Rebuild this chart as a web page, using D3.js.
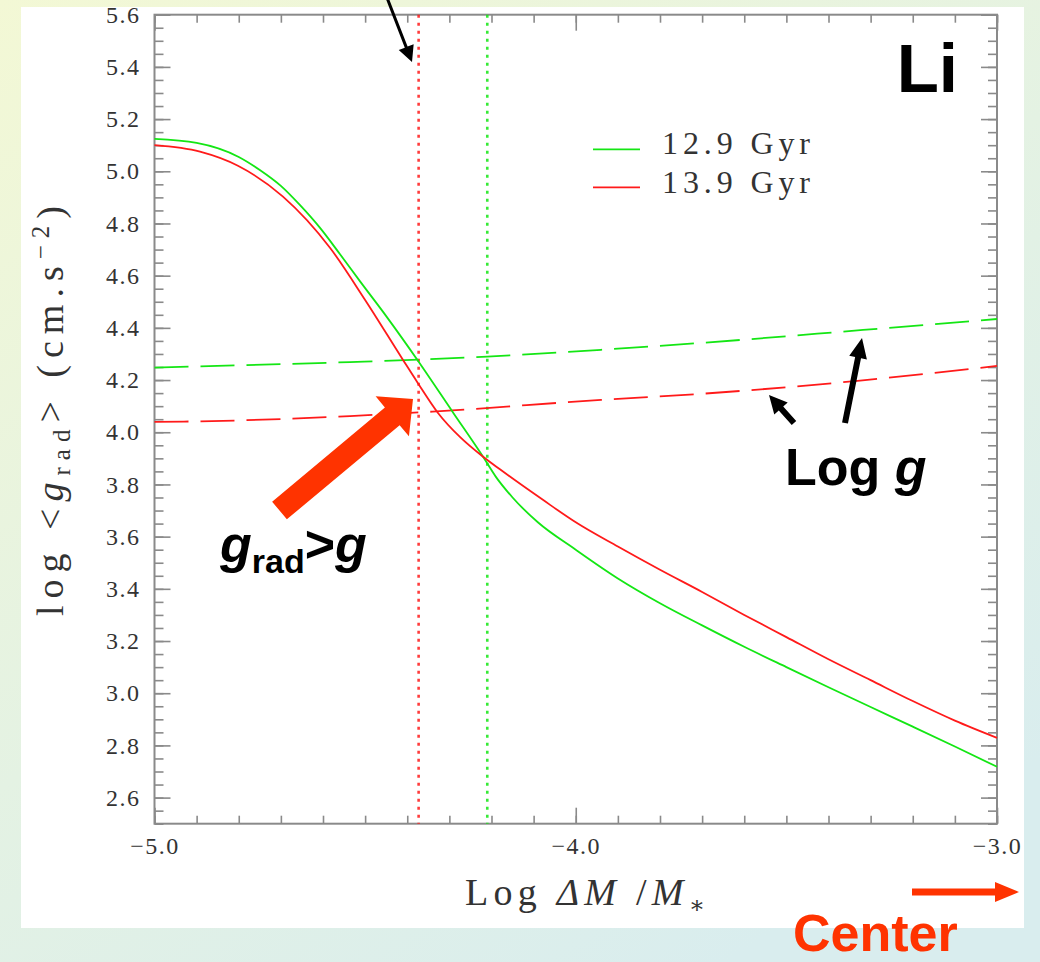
<!DOCTYPE html>
<html>
<head>
<meta charset="utf-8">
<script src="https://cdn.jsdelivr.net/npm/d3@7"></script>
<style>
  html, body { margin: 0; padding: 0; overflow: hidden; background: #fff; }
  svg { display: block; }
</style>
</head>
<body>
<svg id="chart" width="1040" height="962"></svg>
<script>
// ---- data -------------------------------------------------------------
// Log(ΔM/M*) axis ticks and log g axis ticks
const xMajorTicks = [-5.0, -4.0, -3.0];
const yMajorTicks = [2.6, 2.8, 3.0, 3.2, 3.4, 3.6, 3.8, 4.0, 4.2, 4.4, 4.6, 4.8, 5.0, 5.2, 5.4, 5.6];

// Series ages (legend)
const seriesLabels = ["12.9 Gyr", "13.9 Gyr"];

// Radiative acceleration of Li, 12.9 Gyr model
const grad129X = [-5.00, -4.90, -4.80, -4.75, -4.70, -4.655, -4.607, -4.56, -4.512, -4.45, -4.375, -4.291,
                  -4.22, -4.19, -4.15, -4.09, -4.0, -3.9, -3.8, -3.7, -3.6, -3.5, -3.4, -3.3, -3.2, -3.1, -3.0];
const grad129Y = [5.124, 5.109, 5.055, 5.005, 4.944, 4.871, 4.783, 4.683, 4.578, 4.445, 4.275, 4.075,
                  3.906, 3.83, 3.75, 3.655, 3.55, 3.44, 3.345, 3.26, 3.178, 3.10, 3.023, 2.947, 2.872, 2.796, 2.718];

// Radiative acceleration of Li, 13.9 Gyr model
const grad139X = [-5.00, -4.892, -4.802, -4.695, -4.583, -4.50, -4.41, -4.375, -4.327, -4.275, -4.22, -4.18,
                  -4.078, -4.0, -3.9, -3.8, -3.7, -3.6, -3.5, -3.4, -3.3, -3.2, -3.1, -3.0];
const grad139Y = [5.100, 5.075, 5.021, 4.903, 4.706, 4.507, 4.277, 4.189, 4.074, 3.982, 3.906, 3.858,
                  3.741, 3.655, 3.562, 3.473, 3.388, 3.30, 3.215, 3.13, 3.05, 2.97, 2.895, 2.829];

// Local gravity (log g), both models
const logg129X = [-5.00, -4.536, -4.373, -4.21, -3.94, -3.705, -3.318, -3.00];
const logg129Y = [4.248, 4.269, 4.278, 4.290, 4.316, 4.342, 4.392, 4.434];
const logg139X = [-5.00, -4.93, -4.536, -4.34, -3.94, -3.705, -3.325, -3.00];
const logg139Y = [4.040, 4.041, 4.062, 4.079, 4.124, 4.147, 4.198, 4.254];

// Depths where g_rad drops below g
const crossing129 = -4.21;
const crossing139 = -4.373;

// ---- layout -----------------------------------------------------------
const W = 1040, H = 962;
const panel = { x: 21, y: 7, w: 1003, h: 921 };
const plot = { left: 154.5, right: 997, top: 14.7, bottom: 823.7 };
const GREEN = "#14e614", RED = "#ff1a1a", ORANGE = "#ff3300";
const AXIS = "#8a8a8a", LABEL = "#333333";
const SERIF = "'Liberation Serif', 'DejaVu Serif', serif";
const SANS = "'Liberation Sans', Arial, sans-serif";

const svg = d3.select("#chart");
const defs = svg.append("defs");

const bg = defs.append("linearGradient").attr("id", "bgGrad")
  .attr("x1", 0).attr("y1", 0).attr("x2", 0.7).attr("y2", 1);
bg.append("stop").attr("offset", 0).attr("stop-color", "#f3f8d5");
bg.append("stop").attr("offset", 0.55).attr("stop-color", "#e4f2e3");
bg.append("stop").attr("offset", 1).attr("stop-color", "#d9edee");

defs.append("clipPath").attr("id", "panelClip")
  .append("rect").attr("x", panel.x).attr("y", panel.y).attr("width", panel.w).attr("height", panel.h);

svg.append("rect").attr("width", W).attr("height", H).attr("fill", "url(#bgGrad)");
svg.append("rect").attr("x", panel.x).attr("y", panel.y).attr("width", panel.w).attr("height", panel.h)
  .attr("fill", "#fff");

const x = d3.scaleLinear().domain([-5, -3]).range([plot.left, plot.right]);
const y = d3.scaleLinear().domain([2.5, 5.6]).range([plot.bottom, plot.top]);

// ---- axes (ticks point inward) ---------------------------------------
const xMinor = d3.range(-50, -29).map(d => d / 10);
const yMinor = d3.range(50, 113).map(d => d / 20);
const fmt = d => (d < 0 ? "\u2212" : "") + Math.abs(d).toFixed(1);

const axes = svg.append("g").attr("clip-path", "url(#panelClip)");

function styleAxis(g) {
  g.select(".domain").remove();
  g.selectAll(".tick line").attr("stroke", AXIS).attr("stroke-width", 1.6);
  g.selectAll(".tick text").attr("font-family", SERIF).attr("font-size", 24)
    .attr("fill", LABEL).attr("letter-spacing", 1.5);
}

axes.append("g").attr("transform", `translate(0,${plot.bottom})`)
  .call(d3.axisBottom(x).tickValues(xMinor).tickSize(-8).tickFormat("")).call(styleAxis);
axes.append("g").attr("transform", `translate(0,${plot.bottom})`)
  .call(d3.axisBottom(x).tickValues(xMajorTicks).tickSize(-16).tickPadding(13).tickFormat(fmt)).call(styleAxis);
axes.append("g").attr("transform", `translate(0,${plot.top})`)
  .call(d3.axisTop(x).tickValues(xMinor).tickSize(-8).tickFormat("")).call(styleAxis);
axes.append("g").attr("transform", `translate(0,${plot.top})`)
  .call(d3.axisTop(x).tickValues(xMajorTicks).tickSize(-16).tickFormat("")).call(styleAxis);

axes.append("g").attr("transform", `translate(${plot.left},0)`)
  .call(d3.axisLeft(y).tickValues(yMinor).tickSize(-9).tickFormat("")).call(styleAxis);
axes.append("g").attr("transform", `translate(${plot.left},0)`)
  .call(d3.axisLeft(y).tickValues(yMajorTicks).tickSize(-16).tickPadding(14).tickFormat(d => d.toFixed(1)))
  .call(styleAxis);
axes.append("g").attr("transform", `translate(${plot.right},0)`)
  .call(d3.axisRight(y).tickValues(yMinor).tickSize(-9).tickFormat("")).call(styleAxis);
axes.append("g").attr("transform", `translate(${plot.right},0)`)
  .call(d3.axisRight(y).tickValues(yMajorTicks).tickSize(-16).tickFormat("")).call(styleAxis);

svg.append("rect")
  .attr("x", plot.left).attr("y", plot.top)
  .attr("width", plot.right - plot.left).attr("height", plot.bottom - plot.top)
  .attr("fill", "none").attr("stroke", AXIS).attr("stroke-width", 2);

// ---- curves ----------------------------------------------------------
const line = d3.line().x(d => x(d[0])).y(d => y(d[1])).curve(d3.curveMonotoneX);
const zip = (a, b) => a.map((v, i) => [v, b[i]]);
const curves = svg.append("g").attr("fill", "none").attr("stroke-width", 1.8);

// vertical markers where g_rad = g
[[crossing139, RED], [crossing129, GREEN]].forEach(([v, c]) => {
  curves.append("line")
    .attr("x1", x(v)).attr("x2", x(v)).attr("y1", y(5.6)).attr("y2", y(2.5))
    .attr("stroke", c).attr("stroke-width", 2.6).attr("stroke-dasharray", "3,5").attr("opacity", 0.85);
});

curves.append("path").datum(zip(logg129X, logg129Y)).attr("d", line)
  .attr("stroke", GREEN).attr("stroke-dasharray", "34,12");
curves.append("path").datum(zip(logg139X, logg139Y)).attr("d", line)
  .attr("stroke", RED).attr("stroke-dasharray", "34,12");
curves.append("path").datum(zip(grad129X, grad129Y)).attr("d", line).attr("stroke", GREEN);
curves.append("path").datum(zip(grad139X, grad139Y)).attr("d", line).attr("stroke", RED);

// ---- legend ----------------------------------------------------------
const legend = svg.append("g");
[[GREEN, 149.3, 154.3], [RED, 187.3, 192.7]].forEach(([c, ly, ty], i) => {
  legend.append("line").attr("x1", 593).attr("x2", 640).attr("y1", ly).attr("y2", ly)
    .attr("stroke", c).attr("stroke-width", 1.8);
  legend.append("text").attr("x", 662).attr("y", ty)
    .attr("font-family", SERIF).attr("font-size", 32).attr("fill", LABEL)
    .attr("textLength", 148).attr("lengthAdjust", "spacing")
    .text(seriesLabels[i]);
});

// ---- axis titles -----------------------------------------------------
const xt = svg.append("text").attr("x", 585).attr("y", 905).attr("text-anchor", "middle")
  .attr("font-family", SERIF).attr("font-size", 38).attr("fill", LABEL)
  .attr("textLength", 240).attr("lengthAdjust", "spacing");
xt.append("tspan").text("Log ");
xt.append("tspan").attr("font-style", "italic").text("\u0394M");
xt.append("tspan").text("  /");
xt.append("tspan").attr("font-style", "italic").text("M");
xt.append("tspan").attr("font-size", 24).attr("dy", 8).text("\u2217");

const yt = svg.append("text").attr("transform", "translate(63,411) rotate(-90)")
  .attr("text-anchor", "middle")
  .attr("font-family", SERIF).attr("font-size", 38).attr("fill", LABEL)
  .attr("textLength", 410).attr("lengthAdjust", "spacing");
yt.append("tspan").text("log <");
yt.append("tspan").attr("font-style", "italic").text("g");
yt.append("tspan").attr("font-size", 25).attr("dy", 7).text("rad");
yt.append("tspan").attr("dy", -7).text("> (cm.s");
yt.append("tspan").attr("font-size", 25).attr("dy", -14).text("\u22122");
yt.append("tspan").attr("dy", 14).text(")");

// ---- annotations -----------------------------------------------------
function arrowPoints(x0, y0, x1, y1, shaftW, headW, headL) {
  const L = Math.hypot(x1 - x0, y1 - y0);
  const ux = (x1 - x0) / L, uy = (y1 - y0) / L, nx = -uy, ny = ux;
  const bx = x1 - ux * headL, by = y1 - uy * headL;
  const s = shaftW / 2, h = headW / 2;
  return [
    [x0 + nx * s, y0 + ny * s], [bx + nx * s, by + ny * s], [bx + nx * h, by + ny * h],
    [x1, y1],
    [bx - nx * h, by - ny * h], [bx - nx * s, by - ny * s], [x0 - nx * s, y0 - ny * s]
  ].map(p => p.join(",")).join(" ");
}
const ann = svg.append("g");
ann.append("polygon").attr("points", arrowPoints(279.5, 510.5, 413, 399, 23, 52, 27)).attr("fill", ORANGE);
ann.append("polygon").attr("points", arrowPoints(845, 423, 862, 338, 6, 18, 20)).attr("fill", "#000");
ann.append("polygon").attr("points", arrowPoints(794, 423, 769, 395, 6, 18, 18)).attr("fill", "#000");
ann.append("polygon").attr("points", arrowPoints(384, -10, 412, 62, 3, 16, 16)).attr("fill", "#000");
ann.append("polygon").attr("points", arrowPoints(912, 892, 1019, 892, 7, 20, 24)).attr("fill", ORANGE);

ann.append("text").attr("x", 958).attr("y", 92).attr("text-anchor", "end")
  .attr("font-family", SANS).attr("font-weight", "bold").attr("font-size", 69).text("Li");

const lg = ann.append("text").attr("x", 785).attr("y", 485)
  .attr("font-family", SANS).attr("font-weight", "bold").attr("font-size", 52);
lg.append("tspan").text("Log ");
lg.append("tspan").attr("font-style", "italic").text("g");

const gg = ann.append("text").attr("x", 220).attr("y", 562)
  .attr("font-family", SANS).attr("font-weight", "bold").attr("font-size", 52);
gg.append("tspan").attr("font-style", "italic").text("g");
gg.append("tspan").attr("font-size", 34).attr("dy", 11).text("rad");
gg.append("tspan").attr("dy", -11).text(">");
gg.append("tspan").attr("font-style", "italic").text("g");

ann.append("text").attr("x", 793).attr("y", 951)
  .attr("font-family", SANS).attr("font-weight", "bold").attr("font-size", 52)
  .attr("fill", ORANGE).text("Center");
</script>
</body>
</html>
